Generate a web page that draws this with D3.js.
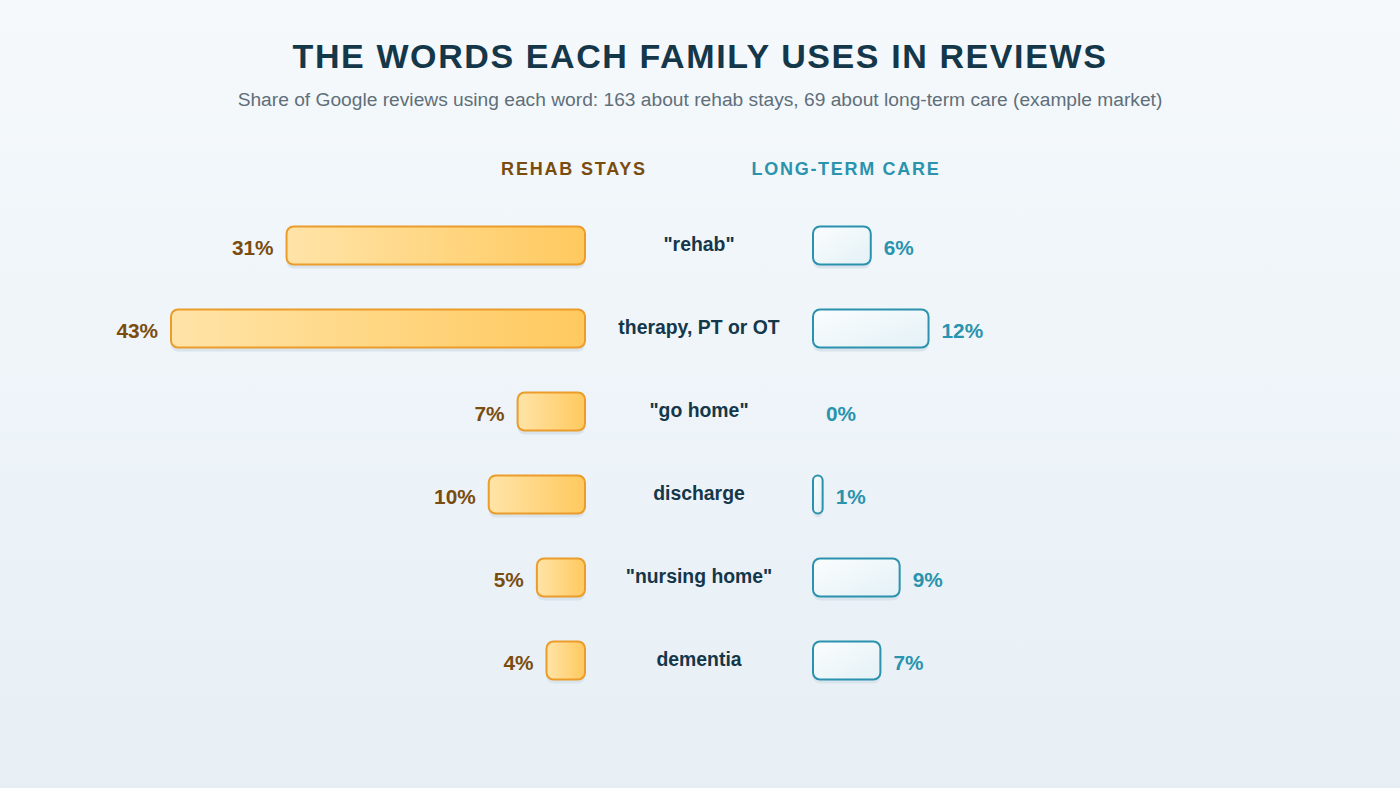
<!DOCTYPE html>
<html>
<head>
<meta charset="utf-8">
<script src="https://cdn.jsdelivr.net/npm/d3@7"></script>
<style>
  html, body { margin: 0; padding: 0; }
  body { width: 1400px; height: 788px; overflow: hidden; font-family: "Liberation Sans", Arial, sans-serif; }
</style>
</head>
<body>
<div id="chart"></div>
<script>
// data
var words = ["\"rehab\"", "therapy, PT or OT", "\"go home\"", "discharge", "\"nursing home\"", "dementia"];
var rehabShare = [31, 43, 7, 10, 5, 4];
var longTermShare = [6, 12, 0, 1, 9, 7];

var svgWidth = 1400;
var svgHeight = 788;

var svg = d3.select("#chart")
  .append("svg")
  .attr("width", svgWidth)
  .attr("height", svgHeight);

var defs = svg.append("defs");

var bg = defs.append("linearGradient").attr("id", "bg")
  .attr("x1", 0).attr("y1", 0).attr("x2", 0).attr("y2", 1);
bg.append("stop").attr("offset", "0%").attr("stop-color", "#f5f9fc");
bg.append("stop").attr("offset", "100%").attr("stop-color", "#e7eff5");

var gold = defs.append("linearGradient").attr("id", "gold")
  .attr("x1", 0).attr("y1", 0).attr("x2", 1).attr("y2", 0);
gold.append("stop").attr("offset", "0%").attr("stop-color", "#ffe4a8");
gold.append("stop").attr("offset", "100%").attr("stop-color", "#ffc95e");

var ice = defs.append("linearGradient").attr("id", "ice")
  .attr("x1", 0).attr("y1", 0).attr("x2", 1).attr("y2", 1);
ice.append("stop").attr("offset", "0%").attr("stop-color", "#fbfdfe");
ice.append("stop").attr("offset", "100%").attr("stop-color", "#e3f1f6");

svg.append("rect")
  .attr("width", svgWidth)
  .attr("height", svgHeight)
  .attr("fill", "url(#bg)");

// titles
svg.append("text")
  .attr("x", 700).attr("y", 68)
  .attr("text-anchor", "middle")
  .attr("font-size", "34px")
  .attr("font-weight", "bold")
  .attr("letter-spacing", "1.6px")
  .attr("fill", "#14374a")
  .text("THE WORDS EACH FAMILY USES IN REVIEWS");

svg.append("text")
  .attr("x", 700).attr("y", 106)
  .attr("text-anchor", "middle")
  .attr("font-size", "19.2px")
  .attr("fill", "#5f6f79")
  .text("Share of Google reviews using each word: 163 about rehab stays, 69 about long-term care (example market)");

svg.append("text")
  .attr("x", 574).attr("y", 175)
  .attr("text-anchor", "middle")
  .attr("font-size", "18px")
  .attr("font-weight", "bold")
  .attr("letter-spacing", "1.8px")
  .attr("fill", "#7a4d0f")
  .text("REHAB STAYS");

svg.append("text")
  .attr("x", 846).attr("y", 175)
  .attr("text-anchor", "middle")
  .attr("font-size", "18px")
  .attr("font-weight", "bold")
  .attr("letter-spacing", "1.7px")
  .attr("fill", "#2a93ae")
  .text("LONG-TERM CARE");

// scales
var leftEdge = 585;
var rightEdge = 813;
var barHeight = 38;

var yScale = d3.scaleBand()
  .domain(words)
  .range([204, 702])
  .paddingInner(0.54)
  .paddingOuter(0.27);

var xScale = d3.scaleLinear()
  .domain([0, 43])
  .range([0, 414]);

var rows = words.map(function(w, i) {
  return { word: w, rehab: rehabShare[i], ltc: longTermShare[i] };
});

var rowGroup = svg.selectAll(".row")
  .data(rows)
  .enter()
  .append("g")
  .attr("class", "row")
  .attr("transform", d => `translate(0, ${yScale(d.word) + yScale.bandwidth() / 2})`);

// shadows
rowGroup.append("rect")
  .attr("x", d => leftEdge - xScale(d.rehab))
  .attr("y", -barHeight / 2 + 4)
  .attr("width", d => xScale(d.rehab))
  .attr("height", barHeight)
  .attr("rx", 7)
  .attr("fill", "#d9e4ec");

rowGroup.filter(d => d.ltc > 0).append("rect")
  .attr("x", rightEdge)
  .attr("y", -barHeight / 2 + 4)
  .attr("width", d => xScale(d.ltc))
  .attr("height", barHeight)
  .attr("rx", d => Math.min(7, xScale(d.ltc) / 2))
  .attr("fill", "#d9e4ec");

// rehab bars
rowGroup.append("rect")
  .attr("x", d => leftEdge - xScale(d.rehab))
  .attr("y", -barHeight / 2)
  .attr("width", d => xScale(d.rehab))
  .attr("height", barHeight)
  .attr("rx", 7)
  .attr("fill", "url(#gold)")
  .attr("stroke", "#eb9c2a")
  .attr("stroke-width", 2);

// long-term care bars
rowGroup.filter(d => d.ltc > 0).append("rect")
  .attr("x", rightEdge)
  .attr("y", -barHeight / 2)
  .attr("width", d => xScale(d.ltc))
  .attr("height", barHeight)
  .attr("rx", d => Math.min(7, xScale(d.ltc) / 2))
  .attr("fill", "url(#ice)")
  .attr("stroke", "#2b92ad")
  .attr("stroke-width", 2);

// labels
rowGroup.append("text")
  .attr("x", 699)
  .attr("y", 5)
  .attr("text-anchor", "middle")
  .attr("font-size", "19.4px")
  .attr("font-weight", "bold")
  .attr("fill", "#14374a")
  .text(d => d.word);

rowGroup.append("text")
  .attr("x", d => leftEdge - xScale(d.rehab) - 13)
  .attr("y", 9)
  .attr("text-anchor", "end")
  .attr("font-size", "20.8px")
  .attr("font-weight", "bold")
  .attr("fill", "#7a4d0f")
  .text(d => d.rehab + "%");

rowGroup.append("text")
  .attr("x", d => rightEdge + xScale(d.ltc) + 13)
  .attr("y", 9)
  .attr("text-anchor", "start")
  .attr("font-size", "20.8px")
  .attr("font-weight", "bold")
  .attr("fill", "#2a93ae")
  .text(d => d.ltc + "%");
</script>
</body>
</html>
